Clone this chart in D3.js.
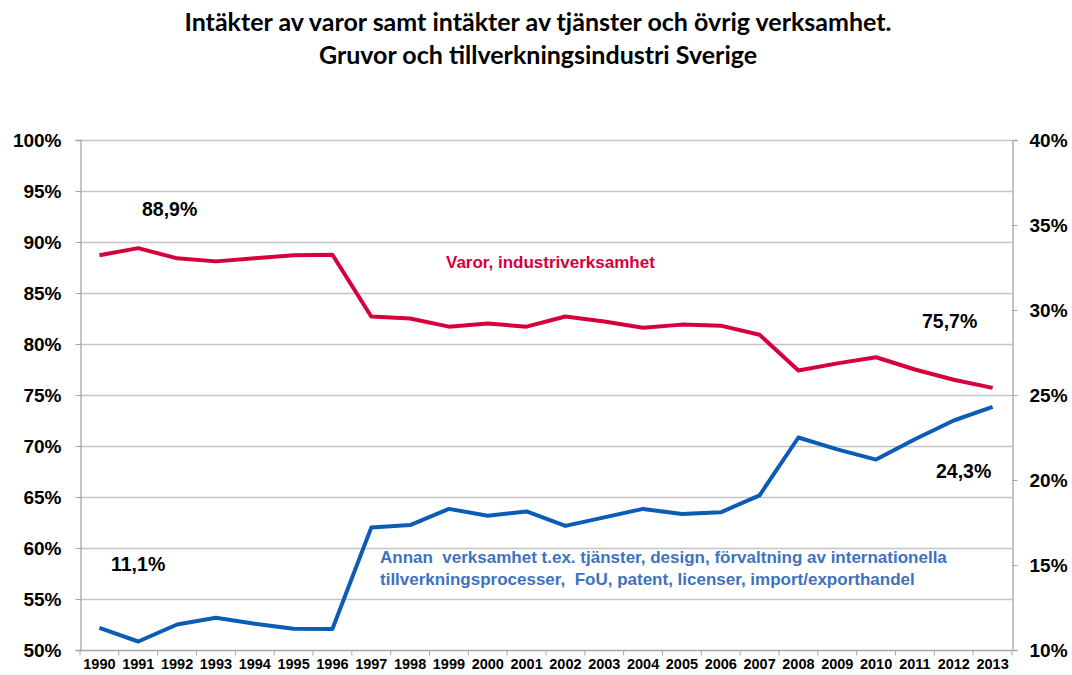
<!DOCTYPE html>
<html>
<head>
<meta charset="utf-8">
<script src="https://cdn.jsdelivr.net/npm/d3@7"></script>
<style>
  body { margin: 0; background: #fff; }
  svg text { font-family: "Liberation Sans", Arial, sans-serif; }
</style>
</head>
<body>
<script>
// years on the x axis
var years = ["1990","1991","1992","1993","1994","1995","1996","1997","1998","1999","2000","2001",
             "2002","2003","2004","2005","2006","2007","2008","2009","2010","2011","2012","2013"];
// Varor, industriverksamhet (left axis, %)
var varor = [88.7, 89.4, 88.4, 88.1, 88.4, 88.7, 88.75, 82.7, 82.5, 81.7, 82.0, 81.7,
             82.7, 82.2, 81.6, 81.9, 81.8, 80.9, 77.4, 78.1, 78.7, 77.5, 76.5, 75.7];
// Annan verksamhet (right axis, %)
var annan = [11.3, 10.5, 11.5, 11.9, 11.55, 11.25, 11.24, 17.2, 17.35, 18.3, 17.9, 18.15,
             17.3, 17.8, 18.3, 18.0, 18.1, 19.1, 22.5, 21.8, 21.2, 22.4, 23.5, 24.3];
var leftTicks = [50, 55, 60, 65, 70, 75, 80, 85, 90, 95, 100];
var rightTicks = [10, 15, 20, 25, 30, 35, 40];

var W = 1072, H = 675;
var x0 = 80, x1 = 1012, yTop = 140, yBot = 650;

var svg = d3.select("body").append("svg").attr("width", W).attr("height", H);

var x = d3.scaleBand().domain(years).range([x0, x1]);
var yL = d3.scaleLinear().domain([50, 100]).range([yBot, yTop]);
var yR = d3.scaleLinear().domain([10, 40]).range([yBot, yTop]);

// title
var title = svg.append("text").attr("text-anchor", "middle")
    .style("font-family", "Lato, 'Open Sans', sans-serif").style("font-weight", "bold")
    .style("font-size", "25px").attr("fill", "#000");
title.append("tspan").attr("x", 538).attr("y", 31).text("Intäkter av varor samt intäkter av tjänster och övrig verksamhet.");
title.append("tspan").attr("x", 538).attr("y", 64).text("Gruvor och tillverkningsindustri Sverige");

// gridlines
svg.append("g").selectAll("line").data(leftTicks.slice(1)).enter().append("line")
    .attr("x1", x0).attr("x2", x1)
    .attr("y1", function (d) { return Math.round(yL(d)) + 0.5; })
    .attr("y2", function (d) { return Math.round(yL(d)) + 0.5; })
    .attr("stroke", "#c4c4c4").attr("stroke-width", 1.3);

// left axis
var axL = svg.append("g").attr("transform", "translate(" + (x0 + 0.5) + ",0)")
    .call(d3.axisLeft(yL).tickValues(leftTicks).tickSize(5).tickPadding(14)
        .tickFormat(function (d) { return d + "%"; }));
// right axis
var axR = svg.append("g").attr("transform", "translate(" + (x1 + 0.5) + ",0)")
    .call(d3.axisRight(yR).tickValues(rightTicks).tickSize(5).tickPadding(12)
        .tickFormat(function (d) { return d + "%"; }));
// bottom axis
var axB = svg.append("g").attr("transform", "translate(0," + (yBot + 0.5) + ")")
    .call(d3.axisBottom(x).tickSize(0).tickPadding(8));
axB.selectAll(".tick").append("line")
    .attr("x1", -x.bandwidth() / 2).attr("x2", -x.bandwidth() / 2)
    .attr("y1", 0).attr("y2", 5).attr("stroke", "#a6a6a6");
axB.append("line").attr("x1", x1).attr("x2", x1).attr("y1", 0).attr("y2", 5).attr("stroke", "#a6a6a6");

[axL, axR, axB].forEach(function (ax) {
    ax.select(".domain").attr("stroke", "#a6a6a6").attr("stroke-width", 1.3);
    ax.selectAll(".tick line").attr("stroke", "#a6a6a6");
    ax.selectAll("text").attr("fill", "#000").style("font-weight", "bold");
});
axL.selectAll("text").style("font-size", "19px");
axR.selectAll("text").style("font-size", "19px");
axB.selectAll("text").style("font-size", "14.5px");
axB.select(".domain").attr("d", "M" + x0 + ",0H" + x1);

// lines
var lineL = d3.line()
    .x(function (d, i) { return x(years[i]) + x.bandwidth() / 2; })
    .y(function (d) { return yL(d); });
var lineR = d3.line()
    .x(function (d, i) { return x(years[i]) + x.bandwidth() / 2; })
    .y(function (d) { return yR(d); });

svg.append("path").datum(varor).attr("d", lineL)
    .attr("fill", "none").attr("stroke", "#d6003c").attr("stroke-width", 4)
    .attr("stroke-linejoin", "round");
svg.append("path").datum(annan).attr("d", lineR)
    .attr("fill", "none").attr("stroke", "#0a5cb4").attr("stroke-width", 4)
    .attr("stroke-linejoin", "round");

// annotations
function note(tx, ty, str, col, size) {
    svg.append("text").attr("x", tx).attr("y", ty).text(str)
        .attr("fill", col).style("font-weight", "bold").style("font-size", size)
        .style("white-space", "pre");
}
note(142, 216, "88,9%", "#000", "19.5px");
note(111, 571, "11,1%", "#000", "19.5px");
note(922, 328, "75,7%", "#000", "19.5px");
note(936, 478, "24,3%", "#000", "19.5px");
note(446, 268, "Varor, industriverksamhet", "#d6003c", "17px");
note(380, 563, "Annan  verksamhet t.ex. tjänster, design, förvaltning av internationella", "#3e72c0", "17px");
note(380, 585, "tillverkningsprocesser,  FoU, patent, licenser, import/exporthandel", "#3e72c0", "17px");
</script>
</body>
</html>
